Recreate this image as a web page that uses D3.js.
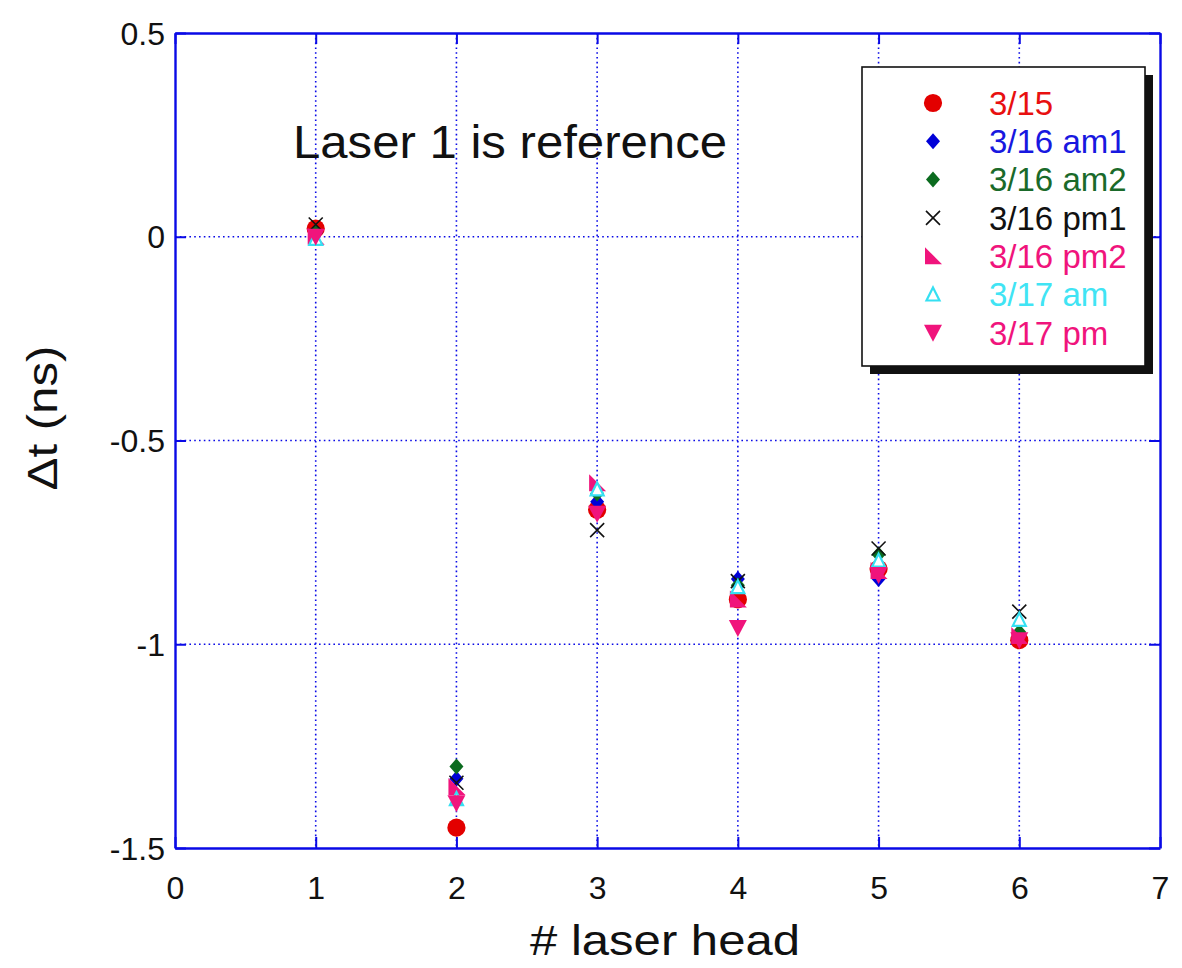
<!DOCTYPE html>
<html>
<head>
<meta charset="utf-8">
<script src="https://cdn.jsdelivr.net/npm/d3@7"></script>
<style>
  html, body { margin: 0; padding: 0; background: #fff; }
  text { font-family: Arial, "Liberation Sans", Helvetica, sans-serif; }
</style>
</head>
<body>
<svg id="chart" width="1182" height="968"></svg>
<script>
// Laser head index on the x axis
const heads = [1, 2, 3, 4, 5, 6];

// Timing offset (ns) of each head relative to laser 1, per run
const s0315   = [0.02, -1.45, -0.67, -0.89, -0.815, -0.99];
const s0316a1 = [0.01, -1.33, -0.65, -0.84, -0.84,  -0.98];
const s0316a2 = [0.01, -1.30, -0.63, -0.855, -0.78, -0.97];
const s0316p1 = [0.03, -1.34, -0.72, -0.845, -0.765, -0.92];
const s0316p2 = [0.00, -1.35, -0.605, -0.89, -0.82, -0.98];
const s0317a  = [-0.005, -1.38, -0.62, -0.86, -0.795, -0.94];
const s0317p  = [0.00, -1.39, -0.68, -0.96, -0.83, -0.99];

const seriesNames = ["3/15", "3/16 am1", "3/16 am2", "3/16 pm1", "3/16 pm2", "3/17 am", "3/17 pm"];
const seriesValues = [s0315, s0316a1, s0316a2, s0316p1, s0316p2, s0317a, s0317p];
const seriesColors = ["#e30000", "#0000d8", "#0b6b1f", "#111111", "#f0147c", "#35e0f2", "#f0147c"];
const textColors   = ["#e81010", "#1818e0", "#1a6a2a", "#111111", "#f0147c", "#40e4f4", "#f0147c"];
const seriesMarks  = ["circle", "diamond", "diamond", "x", "rtri", "otri", "dtri"];

const xTicks = [0, 1, 2, 3, 4, 5, 6, 7];
const xTickLabels = ["0", "1", "2", "3", "4", "5", "6", "7"];
const yTicks = [0.5, 0, -0.5, -1, -1.5];
const yTickLabels = ["0.5", "0", "-0.5", "-1", "-1.5"];

const svg = d3.select("#chart");
const blue = "#0a0ae6";

const x = d3.scaleLinear().domain([0, 7]).range([175, 1160]);
const y = d3.scaleLinear().domain([-1.5, 0.5]).range([848, 33]);

// dotted grid
const grid = svg.append("g");
grid.selectAll("line.v").data(xTicks.slice(1, -1)).join("line")
  .attr("x1", d => x(d)).attr("x2", d => x(d))
  .attr("y1", y(0.5)).attr("y2", y(-1.5))
  .attr("stroke", blue).attr("stroke-width", 1.6).attr("stroke-dasharray", "1.6,3.2");
grid.selectAll("line.h").data(yTicks.slice(1, -1)).join("line")
  .attr("y1", d => y(d)).attr("y2", d => y(d))
  .attr("x1", x(0)).attr("x2", x(7))
  .attr("stroke", blue).attr("stroke-width", 1.6).attr("stroke-dasharray", "1.6,3.2");

// axes with inward ticks on all four sides
const tickLen = 11;
const axB = d3.axisBottom(x).tickValues(xTicks).tickSizeInner(-tickLen).tickSizeOuter(0).tickPadding(28)
  .tickFormat((d, i) => xTickLabels[i]);
const axT = d3.axisTop(x).tickValues(xTicks).tickSizeInner(-tickLen).tickSizeOuter(0).tickFormat("");
const axL = d3.axisLeft(y).tickValues(yTicks).tickSizeInner(-tickLen).tickSizeOuter(0).tickPadding(10)
  .tickFormat((d, i) => yTickLabels[i]);
const axR = d3.axisRight(y).tickValues(yTicks).tickSizeInner(-tickLen).tickSizeOuter(0).tickFormat("");

function styleAxis(g) {
  g.select(".domain").attr("stroke", blue).attr("stroke-width", 2.4);
  g.selectAll(".tick line").attr("stroke", blue).attr("stroke-width", 2);
  g.selectAll(".tick text").attr("fill", "#111").style("font-size", "32px")
    .style("font-family", "Arial, 'Liberation Sans', sans-serif");
}
svg.append("g").attr("transform", `translate(0,${y(-1.5)})`).call(axB).call(styleAxis);
svg.append("g").attr("transform", `translate(0,${y(0.5)})`).call(axT).call(styleAxis);
svg.append("g").attr("transform", `translate(${x(0)},0)`).call(axL).call(styleAxis)
  .selectAll(".tick text").attr("dy", "0.35em");
svg.append("g").attr("transform", `translate(${x(7)},0)`).call(axR).call(styleAxis);

// marker shapes
function markerPath(kind) {
  switch (kind) {
    case "circle":  return d3.symbol(d3.symbolCircle, 260)();
    case "diamond": return "M0,-8L7,0L0,8L-7,0Z";
    case "x":       return "M-7,-7L7,7M7,-7L-7,7";
    case "rtri":    return "M-8,-9L-8,8L9,8Z";
    case "otri":    return "M0,-7L6.5,6L-6.5,6Z";
    case "dtri":    return "M-9,-8L9,-8L0,9Z";
  }
}
function styleMarker(sel, kind, color) {
  if (kind === "x") {
    sel.attr("fill", "none").attr("stroke", color).attr("stroke-width", 1.6);
  } else if (kind === "otri") {
    sel.attr("fill", "#fff").attr("stroke", color).attr("stroke-width", 2.2);
  } else {
    sel.attr("fill", color).attr("stroke", "none");
  }
}

// data points
seriesValues.forEach((vals, si) => {
  const g = svg.append("g");
  const pts = g.selectAll("path").data(heads.map((h, i) => ({ h, v: vals[i] }))).join("path")
    .attr("d", markerPath(seriesMarks[si]))
    .attr("transform", d => `translate(${x(d.h)},${y(d.v)})`);
  styleMarker(pts, seriesMarks[si], seriesColors[si]);
});

// annotation
svg.append("text").attr("x", 293).attr("y", 158)
  .attr("fill", "#111").style("font-size", "46px")
  .attr("textLength", 434).attr("lengthAdjust", "spacingAndGlyphs")
  .text("Laser 1 is reference");

// legend with drop shadow
const lg = svg.append("g");
lg.append("rect").attr("x", 870).attr("y", 75).attr("width", 283).attr("height", 299).attr("fill", "#111");
lg.append("rect").attr("x", 862).attr("y", 67).attr("width", 283).attr("height", 299)
  .attr("fill", "#fff").attr("stroke", "#111").attr("stroke-width", 1.6);
seriesNames.forEach((name, i) => {
  const cy = 103 + i * 38.3;
  const m = lg.append("path").attr("d", markerPath(seriesMarks[i]))
    .attr("transform", `translate(933,${cy})`);
  styleMarker(m, seriesMarks[i], seriesColors[i]);
  lg.append("text").attr("x", 989).attr("y", cy).attr("dy", "0.36em")
    .attr("fill", textColors[i]).style("font-size", "33px").text(name);
});

// axis titles
svg.append("text").attr("x", 665).attr("y", 955).attr("text-anchor", "middle")
  .attr("fill", "#111").style("font-size", "42px")
  .attr("textLength", 270).attr("lengthAdjust", "spacingAndGlyphs")
  .text("# laser head");
svg.append("text").attr("transform", "translate(57,418) rotate(-90)").attr("text-anchor", "middle")
  .attr("fill", "#111").style("font-size", "42px")
  .attr("textLength", 145).attr("lengthAdjust", "spacingAndGlyphs")
  .text("Δt (ns)");
</script>
</body>
</html>
